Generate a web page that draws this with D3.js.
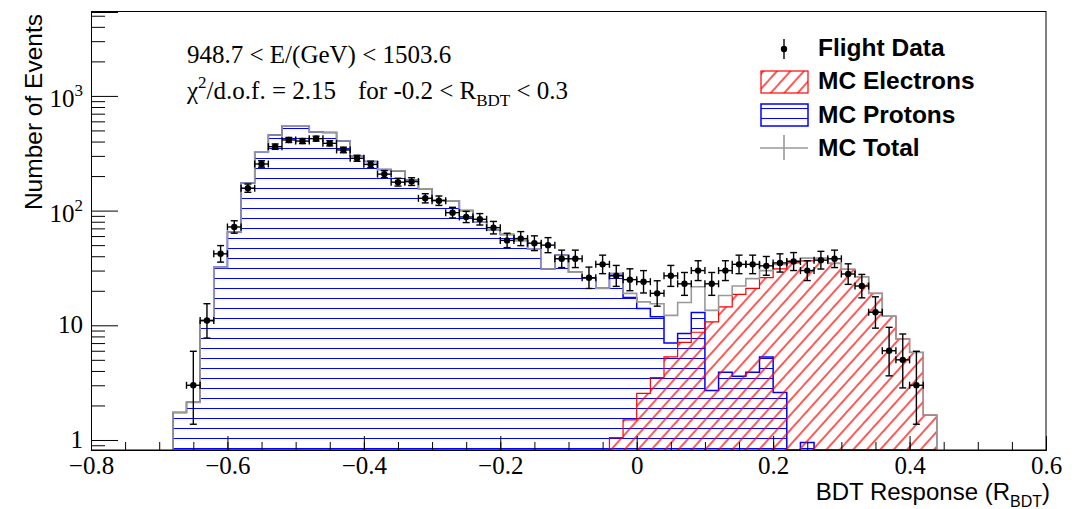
<!DOCTYPE html>
<html>
<head>
<meta charset="utf-8">
<script src="https://cdn.jsdelivr.net/npm/d3@7"></script>
<style>
  body { margin: 0; background: #fff; }
</style>
</head>
<body>
<script>
// bin centres of the BDT response histogram
const binCenters = [-0.67, -0.65, -0.63, -0.61, -0.59, -0.57, -0.55, -0.53, -0.51, -0.49,
  -0.47, -0.45, -0.43, -0.41, -0.39, -0.37, -0.35, -0.33, -0.31, -0.29,
  -0.27, -0.25, -0.23, -0.21, -0.19, -0.17, -0.15, -0.13, -0.11, -0.09,
  -0.07, -0.05, -0.03, -0.01, 0.01, 0.03, 0.05, 0.07, 0.09, 0.11,
  0.13, 0.15, 0.17, 0.19, 0.21, 0.23, 0.25, 0.27, 0.29, 0.31,
  0.33, 0.35, 0.37, 0.39, 0.41, 0.43];

const flightData = [null, 3, 11, 42, 72, 157, 255, 361, 413, 404,
  424, 386, 338, 286, 253, 208, 177, 179, 128, 122,
  96, 88, 84, 71, 55, 57, 52, 50, 38, 38,
  26, 34, 27, 25, 24, 19, 27, 23, 30, 23,
  30, 34, 34, 33, 35, 36, 30, 37, 38, 28,
  22, 13, 6, 5, 3, null];

const mcTotal = [1.74, 2.13, 11, 32, 65, 174, 326, 456, 550, 550,
  485, 480, 405, 300, 268, 228, 222, 185, 155, 124,
  122, 100, 80, 68, 62, 55, 46, 31, 41, 29,
  26, 21, 28.4, 19, 16, 15.4, 12.2, 15.8, 21.7, 13.5,
  18.2, 22, 25.5, 30, 34, 36.5, 38.5, 38.4, 34.7, 30.8,
  26.5, 19, 12, 7.6, 5.8, 1.65];

const mcProtons = [1.74, 2.13, 11, 32, 65, 174, 326, 456, 550, 550,
  485, 480, 405, 300, 268, 228, 222, 185, 155, 124,
  122, 100, 80, 68, 62, 55, 46, 31, 41, 29,
  26, 21, 27.3, 17.5, 14, 11.9, 7.0, 8.5, 12.9, 2.7,
  3.9, 3.6, 3.9, 5.3, 2.6, 0, 0.95, 0, 0, 0,
  0, 0, 0, 0, 0, 0];

const mcElectrons = [0, 0, 0, 0, 0, 0, 0, 0, 0, 0,
  0, 0, 0, 0, 0, 0, 0, 0, 0, 0,
  0, 0, 0, 0, 0, 0, 0, 0, 0, 0,
  0, 0, 1.05, 1.5, 2.55, 3.5, 5.3, 7.1, 8.7, 10.7,
  14.5, 18.6, 21, 26, 31, 35, 36.5, 38.4, 34.7, 30.8,
  26.5, 19, 12, 7.6, 5.8, 1.65];

const xTickValues = [-0.8, -0.6, -0.4, -0.2, 0, 0.2, 0.4, 0.6];
const yTickValues = [1, 10, 100, 1000];
const yTickBase = ["1", "10", "10", "10"];
const yTickExp = ["", "", "2", "3"];
const legendLabels = ["Flight Data", "MC Electrons", "MC Protons", "MC Total"];

const width = 1089, height = 509;
const serif = "'Liberation Serif', 'Times New Roman', serif";
const sans = "'Liberation Sans', Arial, sans-serif";

let svg = d3.select("body").append("svg")
    .attr("width", width)
    .attr("height", height);

let x = d3.scaleLinear().domain([-0.8, 0.6]).range([91, 1046]);
let y = d3.scaleLog().domain([0.818, 5390]).range([450, 12]);
let yBottom = y.range()[0];
let half = (binCenters[1] - binCenters[0]) / 2;

// hatch patterns
let defs = svg.append("defs");
defs.append("pattern")
    .attr("id", "hatchBlue")
    .attr("patternUnits", "userSpaceOnUse")
    .attr("y", 8)
    .attr("width", 20)
    .attr("height", 10)
    .append("line")
    .attr("x1", 0).attr("x2", 20)
    .attr("y1", 0.5).attr("y2", 0.5)
    .attr("stroke", "#0000ff")
    .attr("stroke-width", 1);

defs.append("pattern")
    .attr("id", "hatchRed")
    .attr("patternUnits", "userSpaceOnUse")
    .attr("width", 10)
    .attr("height", 10)
    .attr("patternTransform", "rotate(-48)")
    .append("line")
    .attr("x1", 0).attr("x2", 10)
    .attr("y1", 5).attr("y2", 5)
    .attr("stroke", "#ff0000")
    .attr("stroke-width", 1.3);

defs.append("clipPath").attr("id", "plotClip")
    .append("rect")
    .attr("x", 91).attr("y", 12)
    .attr("width", 955).attr("height", 438);

function stepPath(values) {
    let pts = [[x(binCenters[0] - half), yBottom]];
    values.forEach((v, i) => {
        let yy = v > 0 ? Math.min(yBottom, y(v)) : yBottom;
        pts.push([x(binCenters[i] - half), yy], [x(binCenters[i] + half), yy]);
    });
    pts.push([x(binCenters[binCenters.length - 1] + half), yBottom]);
    return d3.line()(pts);
}

let plot = svg.append("g").attr("clip-path", "url(#plotClip)");

// MC protons
plot.append("path")
    .attr("d", stepPath(mcProtons) + "Z")
    .attr("fill", "url(#hatchBlue)")
    .attr("stroke", "none");
plot.append("path")
    .attr("d", stepPath(mcProtons))
    .attr("fill", "none")
    .attr("stroke", "#0000ff")
    .attr("stroke-width", 1.5);

// MC electrons
plot.append("path")
    .attr("d", stepPath(mcElectrons) + "Z")
    .attr("fill", "url(#hatchRed)")
    .attr("stroke", "none");
plot.append("path")
    .attr("d", stepPath(mcElectrons))
    .attr("fill", "none")
    .attr("stroke", "#ff0000")
    .attr("stroke-width", 1.2);

// MC total
plot.append("path")
    .attr("d", stepPath(mcTotal))
    .attr("fill", "none")
    .attr("stroke", "#999")
    .attr("stroke-width", 1.6);

// flight data with poisson error bars
let points = binCenters.map((c, i) => ({c: c, n: flightData[i]})).filter(d => d.n != null);
let cap = 3.5;
let pts = plot.append("g").attr("stroke", "#000").attr("stroke-width", 1.4);
points.forEach(d => {
    let n = d.n;
    let up = n + Math.sqrt(n + 0.75) + 1;
    let lo = n * Math.pow(1 - 1 / (9 * n) - 1 / (3 * Math.sqrt(n)), 3);
    let cx = x(d.c), cy = y(n);
    let x0 = x(d.c - half), x1 = x(d.c + half);
    let yUp = y(up), yLo = Math.min(yBottom, y(lo));
    pts.append("line").attr("x1", x0).attr("x2", x1).attr("y1", cy).attr("y2", cy);
    pts.append("line").attr("x1", x0).attr("x2", x0).attr("y1", cy - cap).attr("y2", cy + cap);
    pts.append("line").attr("x1", x1).attr("x2", x1).attr("y1", cy - cap).attr("y2", cy + cap);
    pts.append("line").attr("x1", cx).attr("x2", cx).attr("y1", yUp).attr("y2", yLo);
    pts.append("line").attr("x1", cx - cap).attr("x2", cx + cap).attr("y1", yUp).attr("y2", yUp);
    pts.append("line").attr("x1", cx - cap).attr("x2", cx + cap).attr("y1", yLo).attr("y2", yLo);
    pts.append("circle").attr("cx", cx).attr("cy", cy).attr("r", 3.2).attr("fill", "#000").attr("stroke", "none");
});

// frame
svg.append("rect")
    .attr("x", 91.5).attr("y", 11.5)
    .attr("width", 954.5).attr("height", 438.5)
    .attr("fill", "none")
    .attr("stroke", "#000")
    .attr("stroke-width", 1);

// x axis
let xMinor = d3.range(-0.8, 0.6001, 0.05);
svg.append("g")
    .attr("transform", "translate(0,450)")
    .call(d3.axisBottom(x).tickValues(xMinor).tickSize(-8).tickFormat(""))
    .call(g => g.select(".domain").remove());
let xAxis = svg.append("g")
    .attr("transform", "translate(0,450)")
    .call(d3.axisBottom(x).tickValues(xTickValues).tickSize(-14).tickFormat(d3.format("")));
xAxis.select(".domain").attr("stroke", "#000");
xAxis.selectAll("text")
    .attr("y", 24)
    .attr("dy", null)
    .attr("fill", "#000")
    .style("font-family", serif)
    .style("font-size", "25px");

// y axis
let yMinor = [];
[0.1, 1, 10, 100, 1000].forEach(dec => {
    for (let k = 2; k <= 9; k++) yMinor.push(dec * k);
});
yMinor = yMinor.filter(v => v > 0.818 && v < 5390);
svg.append("g")
    .attr("transform", "translate(91,0)")
    .call(d3.axisLeft(y).tickValues(yMinor).tickSize(-14).tickFormat(""))
    .call(g => g.select(".domain").remove());
let yAxis = svg.append("g")
    .attr("transform", "translate(91,0)")
    .call(d3.axisLeft(y).tickValues(yTickValues).tickSize(-27).tickFormat(""));
yAxis.select(".domain").attr("stroke", "#000");

let yLab = svg.append("g")
    .style("font-family", serif)
    .style("font-size", "25px")
    .attr("fill", "#000");
yTickValues.forEach((v, i) => {
    let t = yLab.append("text")
        .attr("x", 83)
        .attr("y", y(v) + (yTickExp[i] ? 11 : 8))
        .attr("text-anchor", "end");
    t.append("tspan").text(yTickBase[i]);
    if (yTickExp[i]) {
        t.append("tspan")
            .attr("dy", -11)
            .style("font-size", "17px")
            .text(yTickExp[i]);
    }
});

// axis titles
svg.append("text")
    .attr("transform", "translate(42,14) rotate(-90)")
    .attr("text-anchor", "end")
    .style("font-family", sans)
    .style("font-size", "24.5px")
    .text("Number of Events");

let xTitle = svg.append("text")
    .attr("x", 1050)
    .attr("y", 500)
    .attr("text-anchor", "end")
    .style("font-family", sans)
    .style("font-size", "24px");
xTitle.append("tspan").text("BDT Response (R");
xTitle.append("tspan").attr("dy", 7).style("font-size", "16px").text("BDT");
xTitle.append("tspan").attr("dy", -7).text(")");

// annotations
svg.append("text")
    .attr("x", 187).attr("y", 63)
    .style("font-family", serif)
    .style("font-size", "25px")
    .text("948.7 < E/(GeV) < 1503.6");

let chi = svg.append("text")
    .attr("x", 187).attr("y", 99)
    .style("font-family", serif)
    .style("font-size", "25px");
chi.append("tspan").text("χ");
chi.append("tspan").attr("dy", -11).style("font-size", "17px").text("2");
chi.append("tspan").attr("dy", 11).text("/d.o.f. = 2.15");
chi.append("tspan").attr("x", 358).text("for -0.2 < R");
chi.append("tspan").attr("dy", 7).style("font-size", "17px").text("BDT");
chi.append("tspan").attr("dy", -7).text(" < 0.3");

// legend
let leg = svg.append("g");
let rowY = [48, 81, 115, 148];
leg.selectAll("text")
    .data(legendLabels)
    .enter().append("text")
    .attr("x", 818)
    .attr("y", (d, i) => rowY[i] + 8)
    .style("font-family", sans)
    .style("font-size", "24.5px")
    .style("font-weight", "bold")
    .text(d => d);

leg.append("line").attr("x1", 784).attr("x2", 784).attr("y1", 39).attr("y2", 59)
    .attr("stroke", "#000").attr("stroke-width", 1.4);
leg.append("circle").attr("cx", 784).attr("cy", 49).attr("r", 3.2).attr("fill", "#000");

leg.append("rect").attr("x", 761).attr("y", 71).attr("width", 47).attr("height", 22)
    .attr("fill", "url(#hatchRed)").attr("stroke", "#ff0000").attr("stroke-width", 1.2);
leg.append("rect").attr("x", 761).attr("y", 104).attr("width", 47).attr("height", 22)
    .attr("fill", "url(#hatchBlue)").attr("stroke", "#0000ff").attr("stroke-width", 1.5);

leg.append("line").attr("x1", 760).attr("x2", 808).attr("y1", 148).attr("y2", 148)
    .attr("stroke", "#999").attr("stroke-width", 1.6);
leg.append("line").attr("x1", 784).attr("x2", 784).attr("y1", 135).attr("y2", 160)
    .attr("stroke", "#999").attr("stroke-width", 1.6);
</script>
</body>
</html>
